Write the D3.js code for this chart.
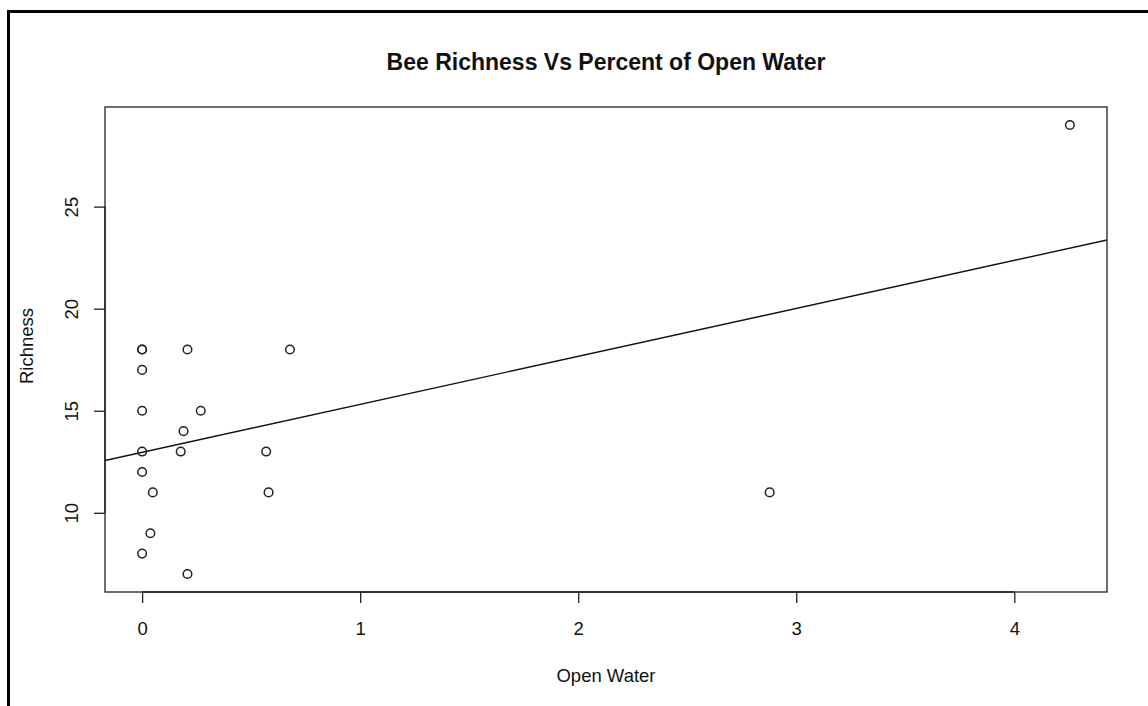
<!DOCTYPE html>
<html>
<head>
<meta charset="utf-8">
<script src="https://cdn.jsdelivr.net/npm/d3@7"></script>
<style>
  html, body { margin: 0; padding: 0; background: #fff; }
  svg { display: block; }
  text { font-family: "Liberation Sans", Arial, sans-serif; fill: #111; }
</style>
</head>
<body>
<svg id="chart" width="1148" height="706"></svg>
<script>
// Percent of open water per site and bee species richness
const openWater = [0, 0, 0.208, 0.678, 0, 0, 0.269, 0.19, 0, 0.177, 0.569, 0, 0.049, 0.58, 0.038, 0, 0.208, 2.878, 4.255];
const richness  = [18, 18, 18, 18, 17, 15, 15, 14, 13, 13, 13, 12, 11, 11, 9, 8, 7, 11, 29];
const xTicks = [0, 1, 2, 3, 4];
const yTicks = [10, 15, 20, 25];

const titleText = "Bee Richness Vs Percent of Open Water";
const xLabel = "Open Water";
const yLabel = "Richness";

const svg = d3.select("#chart");
const plot = { left: 105, right: 1107, top: 107, bottom: 592 };
const labelSize = 18.5;

// R-style 4% padding on the data range
function padded(values) {
  const [lo, hi] = d3.extent(values);
  const pad = (hi - lo) * 0.04;
  return [lo - pad, hi + pad];
}

const x = d3.scaleLinear().domain(padded(openWater)).range([plot.left, plot.right]);
const y = d3.scaleLinear().domain(padded(richness)).range([plot.bottom, plot.top]);

// outer frame (left and top edges visible)
svg.append("rect")
  .attr("x", 8.5).attr("y", 11.5)
  .attr("width", 1300).attr("height", 900)
  .attr("fill", "none").attr("stroke", "#000").attr("stroke-width", 3);

// least-squares fit line
const mx = d3.mean(openWater), my = d3.mean(richness);
let sxy = 0, sxx = 0;
openWater.forEach((v, i) => { sxy += (v - mx) * (richness[i] - my); sxx += (v - mx) * (v - mx); });
const slope = sxy / sxx;
const intercept = my - slope * mx;

svg.append("clipPath").attr("id", "plotClip")
  .append("rect")
  .attr("x", plot.left).attr("y", plot.top)
  .attr("width", plot.right - plot.left).attr("height", plot.bottom - plot.top);

const [x0, x1] = x.domain();
svg.append("line")
  .attr("clip-path", "url(#plotClip)")
  .attr("x1", x(x0)).attr("y1", y(intercept + slope * x0))
  .attr("x2", x(x1)).attr("y2", y(intercept + slope * x1))
  .attr("stroke", "#111").attr("stroke-width", 1.4);

// points
svg.append("g").selectAll("circle")
  .data(openWater.map((v, i) => [v, richness[i]]))
  .join("circle")
  .attr("cx", d => x(d[0]))
  .attr("cy", d => y(d[1]))
  .attr("r", 4.3)
  .attr("fill", "none")
  .attr("stroke", "#222")
  .attr("stroke-width", 1.5);

// plot box
svg.append("rect")
  .attr("x", plot.left).attr("y", plot.top)
  .attr("width", plot.right - plot.left).attr("height", plot.bottom - plot.top)
  .attr("fill", "none").attr("stroke", "#333").attr("stroke-width", 1.4);

// x axis
const xAxis = d3.axisBottom(x).tickValues(xTicks).tickFormat(d3.format("d")).tickSize(11);
const gx = svg.append("g").attr("transform", `translate(0,${plot.bottom})`).call(xAxis);
gx.select(".domain")
  .attr("d", `M${x(xTicks[0])},0H${x(xTicks[xTicks.length - 1])}`)
  .attr("stroke", "#222").attr("stroke-width", 1.4);
gx.selectAll(".tick line").attr("stroke", "#222").attr("stroke-width", 1.3);
gx.selectAll(".tick text")
  .attr("y", 43).attr("dy", null)
  .attr("font-family", "Liberation Sans, Arial, sans-serif")
  .attr("font-size", labelSize).attr("fill", "#111");

// y axis with labels rotated parallel to the axis
const yAxis = d3.axisLeft(y).tickValues(yTicks).tickFormat(d3.format("d")).tickSize(11).tickPadding(0);
const gy = svg.append("g").attr("transform", `translate(${plot.left},0)`).call(yAxis);
gy.select(".domain")
  .attr("d", `M0,${y(yTicks[0])}V${y(yTicks[yTicks.length - 1])}`)
  .attr("stroke", "#222").attr("stroke-width", 1.4);
gy.selectAll(".tick line").attr("stroke", "#222").attr("stroke-width", 1.3);
gy.selectAll(".tick text")
  .attr("x", null).attr("dy", null)
  .attr("transform", "translate(-27,0) rotate(-90)")
  .attr("text-anchor", "middle")
  .attr("font-family", "Liberation Sans, Arial, sans-serif")
  .attr("font-size", labelSize).attr("fill", "#111");

// title and axis titles
const cx = (plot.left + plot.right) / 2;
svg.append("text")
  .attr("x", cx).attr("y", 70)
  .attr("text-anchor", "middle")
  .attr("font-size", 23).attr("font-weight", "bold")
  .text(titleText);

svg.append("text")
  .attr("x", cx).attr("y", 682)
  .attr("text-anchor", "middle")
  .attr("font-size", labelSize)
  .text(xLabel);

svg.append("text")
  .attr("transform", `translate(33,346) rotate(-90)`)
  .attr("text-anchor", "middle")
  .attr("font-size", labelSize)
  .text(yLabel);
</script>
</body>
</html>
